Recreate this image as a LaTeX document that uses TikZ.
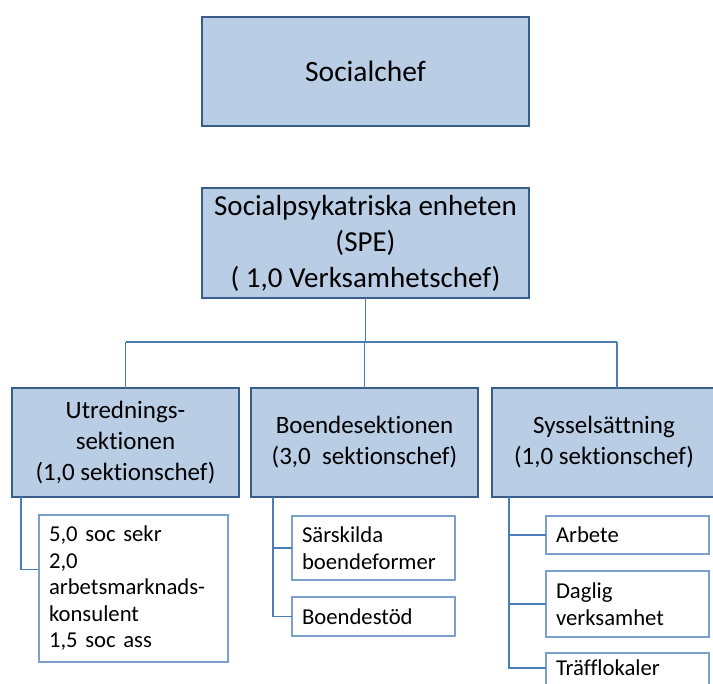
\documentclass[tikz,border=0pt]{standalone}
\usepackage{fontspec}
\setmainfont{Carlito}[Ligatures=NoCommon]
\usetikzlibrary{positioning}
\definecolor{boxfill}{HTML}{B9CDE5}
\definecolor{boxline}{HTML}{385D8A}
\definecolor{linkline}{HTML}{4A7EBB}
\definecolor{subline}{HTML}{7BA0CD}

\begin{document}
\begin{tikzpicture}[
    x=1pt, y=-1pt,
    node distance=17pt,
    unit/.style={%
      draw=boxline,
      line width=2.6pt,
      fill=boxfill,
      rectangle,
      align=center,
      font=\fontsize{25}{31}\selectfont,
      minimum width=227pt,
      minimum height=109pt,
      outer sep=0pt,
    },
    sub/.style={%
      draw=subline,
      line width=1.2pt,
      fill=white,
      rectangle,
      align=left,
      font=\fontsize{22.7}{26.5}\selectfont,
      minimum width=163pt,
      text width=143pt,
      outer sep=0pt,
    },
    link/.style={%
      draw=linkline,
      line width=1.7pt,
    },
  ]

    \useasboundingbox (0,0) rectangle (713,684);
    \clip (0,0) rectangle (713,684);

    % top levels
    \node [unit, minimum width=327pt, font=\fontsize{29.5}{34}\selectfont] (chef) at (365.5,71.5) {Socialchef};
    \node [unit, minimum width=327pt, minimum height=110pt, font=\fontsize{29}{36}\selectfont] (spe) at (365.5,243)
      {Socialpsykatriska enheten\\(SPE)\\( 1,0 Verksamhetschef)};

    % sections
    \node [unit] (utr) at (125.5,442.5) {Utrednings-\\sektionen\\(1,0 sektionschef)};
    \node [unit] (boe) at (364.5,442.5) {Boendesektionen\\(3,0~~sektionschef)};
    \node [unit, minimum width=224pt] (sys) at (604,442.5) {Sysselsättning\\(1,0 sektionschef)};

    % units under each section
    \node [sub, minimum width=189pt, text width=169pt, minimum height=147pt] (utr1) at (133.5,588.5)
      {5,0 soc sekr\\2,0\\arbetsmarknads-\\konsulent\\1,5 soc ass};
    \node [sub, minimum height=64pt] (boe1) at (373.5,548) {Särskilda\\boendeformer};
    \node [sub, minimum height=39pt, below=of boe1] (boe2) {Boendestöd};
    \node [sub, minimum height=38pt] (sys1) at (627.5,535) {Arbete};
    \node [sub, minimum height=66pt, below=of sys1] (sys2) {Daglig\\verksamhet};
    \node [sub, minimum height=40pt, text depth=10pt, below=16pt of sys2] (sys3) {Träfflokaler};

    \coordinate (bus) at (365,342);
    \coordinate (sysT) at ([xshift=13pt]sys.north);
    \coordinate (utrA) at ([xshift=9pt]utr.south west);
    \coordinate (boeA) at ([xshift=22pt]boe.south west);
    \coordinate (sysA) at ([xshift=17pt]sys.south west);

    \draw [link] (spe) -- (spe |- bus);
    \draw [link] (utr |- bus) -- (sysT |- bus);
    \draw [link] (utr) -- (utr |- bus);
    \draw [link] (boe) -- (boe |- bus);
    \draw [link] (sysT) -- (sysT |- bus);

    \draw [link] (utrA) |- ([yshift=19pt]utr1.west);
    \draw [link] (boeA) |- (boe1.west);
    \draw [link] (boeA) |- (boe2.west);
    \draw [link] (sysA) |- (sys1.west);
    \draw [link] (sysA) |- (sys2.west);
    \draw [link] (sysA) |- ([yshift=5pt]sys3.west);
\end{tikzpicture}
\end{document}
